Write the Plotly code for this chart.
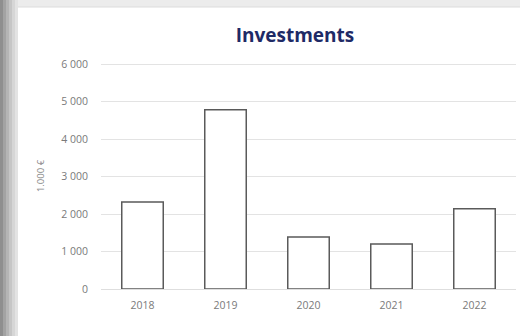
import plotly.graph_objects as go

years = ["2018", "2019", "2020", "2021", "2022"]
investments = [2320, 4780, 1390, 1200, 2140]
y_ticks = [0, 1000, 2000, 3000, 4000, 5000, 6000]
y_tick_labels = ["0", "1 000", "2 000", "3 000", "4 000", "5 000", "6 000"]

W, H = 520, 336
L, R, T, B = 101, 4, 63, 47
pw = W - L - R
ph = H - T - B

def px_x(p):
    return (p - L) / pw

def px_y(p):
    return (H - B - p) / ph

fig = go.Figure()
fig.add_trace(go.Bar(
    x=years, y=investments,
    marker=dict(color="white", line=dict(color="#5a5a5a", width=1.5)),
    width=0.5,
))

shapes = []
strip_cols = ["#8f8f8f", "#a3a3a3", "#b5b5b5", "#c6c6c6", "#d6d6d6", "#e3e3e3"]
n = len(strip_cols)
for i, c in enumerate(strip_cols):
    shapes.append(dict(type="rect", xref="paper", yref="paper",
                       x0=px_x(i * 18 / n), x1=px_x((i + 1) * 18 / n),
                       y0=px_y(H), y1=px_y(0), fillcolor=c, line=dict(width=0), layer="below"))
shapes.append(dict(type="rect", xref="paper", yref="paper",
                   x0=px_x(18), x1=px_x(W), y0=px_y(7), y1=px_y(0),
                   fillcolor="#ececec", line=dict(width=0), layer="below"))
shapes.append(dict(type="line", xref="paper", yref="paper",
                   x0=px_x(18), x1=px_x(W), y0=px_y(7), y1=px_y(7),
                   line=dict(color="#dcdcdc", width=1), layer="below"))

fig.update_layout(
    width=W, height=H,
    margin=dict(l=L, r=R, t=T, b=B),
    paper_bgcolor="white", plot_bgcolor="white",
    showlegend=False,
    shapes=shapes,
    title=dict(text="<b>Investments</b>", x=px_x(295), xref="paper", xanchor="center",
               y=1 - 35 / H, yanchor="middle",
               font=dict(family="Open Sans", size=19, color="#1e2a66")),
    font=dict(family="Open Sans", size=10, color="#777777"),
    bargap=0.5,
)
fig.update_xaxes(showgrid=False, showline=False, ticks="", ticklabelstandoff=8,
                 tickfont=dict(size=10.5, color="#7a7a7a"))
fig.update_yaxes(range=[0, 6030], tickvals=y_ticks, ticktext=y_tick_labels,
                 showgrid=True, gridcolor="#e3e3e3", gridwidth=1,
                 zeroline=True, zerolinecolor="#dedede", zerolinewidth=1,
                 showline=False, ticks="", ticklabelstandoff=12,
                 tickfont=dict(size=10.5, color="#7a7a7a"),
                 title=dict(text="1.000 €", font=dict(size=9.5, color="#888888"), standoff=14))

fig.write_html("out.html")
